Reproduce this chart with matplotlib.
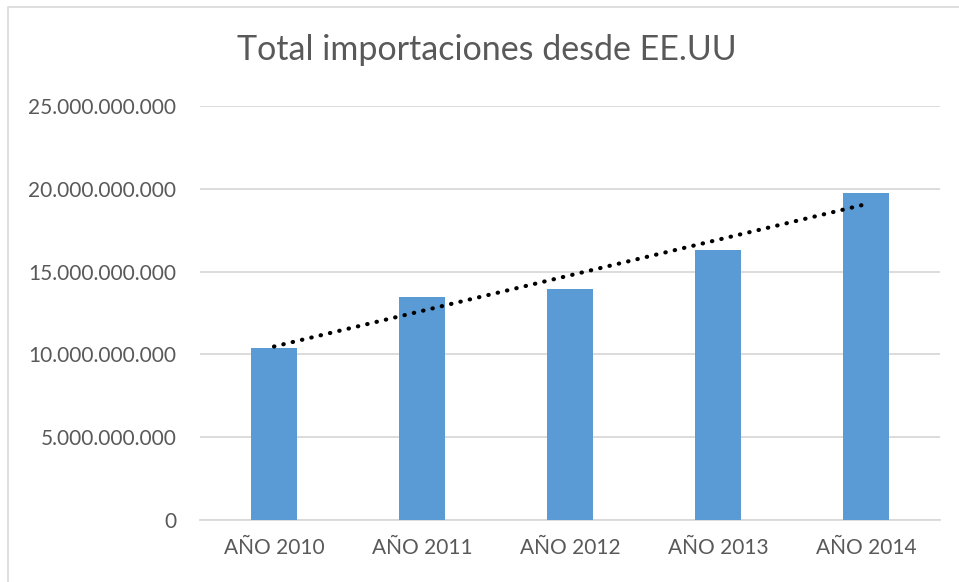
import numpy as np
import matplotlib.pyplot as plt
from matplotlib.ticker import FuncFormatter
from matplotlib.patches import Rectangle

categories = ["AÑO 2010", "AÑO 2011", "AÑO 2012", "AÑO 2013", "AÑO 2014"]
values = [10.40e9, 13.47e9, 13.97e9, 16.30e9, 19.73e9]
yticks = [0, 5e9, 10e9, 15e9, 20e9, 25e9]

plt.rcParams["font.family"] = ["Lato", "DejaVu Sans"]
text_color = "#595959"

fig = plt.figure(figsize=(9.59, 5.82), dpi=100)
ax = fig.add_axes([200 / 959, 1 - 520 / 582, 740 / 959, 414 / 582])

x = np.arange(len(categories))
ax.bar(x, values, width=0.31, color="#5B9BD5", zorder=3)

# linear trend line (Excel style)
coef = np.polyfit(x, values, 1)
ax.plot(x, np.polyval(coef, x), color="black", linestyle=(0, (0.1, 2.2)),
        linewidth=3.0, dash_capstyle="round", zorder=4)

ax.set_xlim(-0.5, len(categories) - 0.5)
ax.set_ylim(0, 25e9)
ax.set_yticks(yticks)
ax.yaxis.set_major_formatter(FuncFormatter(lambda v, p: f"{int(v):,}".replace(",", ".")))
ax.set_xticks(x)
ax.set_xticklabels(categories)

ax.grid(axis="y", color="#D9D9D9", linewidth=1.3, zorder=0)
for s in ["top", "right", "left"]:
    ax.spines[s].set_visible(False)
ax.spines["bottom"].set_color("#D9D9D9")
ax.spines["bottom"].set_linewidth(1.3)
ax.tick_params(axis="both", length=0, labelsize=15, colors=text_color)
ax.tick_params(axis="y", pad=17)
ax.tick_params(axis="x", pad=13)

fig.text(487 / 959, 1 - 50 / 582, "Total importaciones desde EE.UU", ha="center",
         va="center", fontsize=24.5, color=text_color)

# chart frame (only left and top edges fall inside the image)
fig.patches.append(Rectangle((8 / 959, -0.01), 1.0, 1 - 7 / 582 + 0.01,
                             transform=fig.transFigure, fill=False,
                             edgecolor="#D9D9D9", linewidth=1.2))

fig.savefig("out.png", dpi=100)
